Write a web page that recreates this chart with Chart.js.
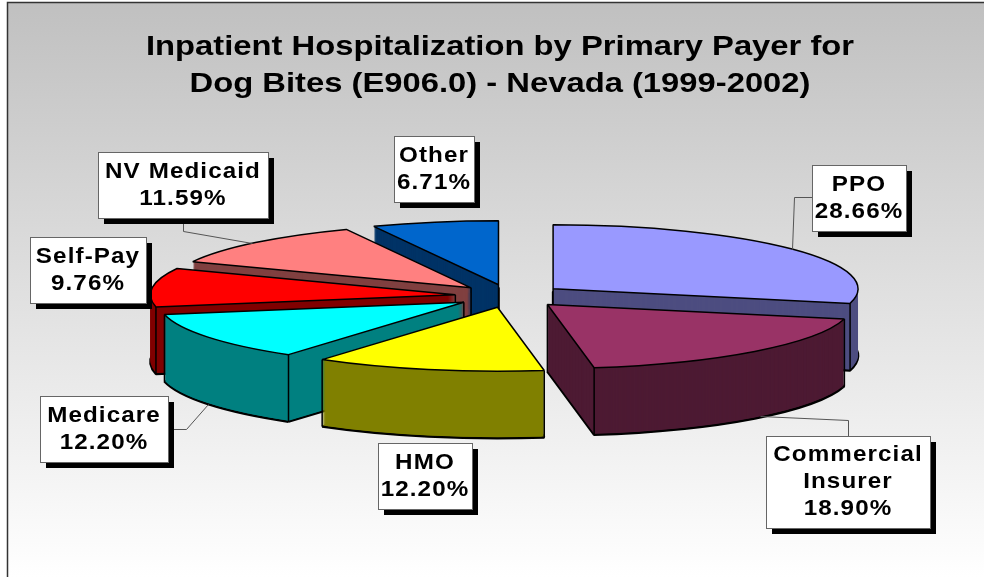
<!DOCTYPE html>
<html>
<head>
<meta charset="utf-8">
<title>Dog bites by payer</title>
<script src="https://cdn.jsdelivr.net/npm/chart.js@4/dist/chart.umd.min.js"></script>
<style>
  html, body { margin: 0; padding: 0; background: #fff; }
  canvas { display: block; }
</style>
</head>
<body>
<canvas id="payerPie" width="984" height="577"></canvas>
<script>
const titleLines = ['Inpatient Hospitalization by Primary Payer for', 'Dog Bites (E906.0) - Nevada (1999-2002)'];
const categories = ['PPO', 'Commercial\nInsurer', 'HMO', 'Medicare', 'Self-Pay', 'NV Medicaid', 'Other'];
const shares = [28.66, 18.90, 12.20, 12.20, 9.76, 11.59, 6.71];
const topColors = ['#9999FF', '#993366', '#FFFF00', '#00FFFF', '#FF0000', '#FF8080', '#0066CC'];
const sideColors = ['#4D4D80', '#4D1A33', '#808000', '#008080', '#800000', '#804040', '#003366'];

// back to front, so nearer slices cover the walls behind them
const drawOrder = [6, 5, 4, 0, 3, 2, 1];

// label boxes: left, top, right, bottom
const labelBoxes = [
  [812, 165, 906, 231],
  [766, 436, 930, 528],
  [378, 443, 472, 509],
  [40, 396, 168, 462],
  [30, 237, 146, 303],
  [98, 152, 268, 218],
  [394, 136, 474, 202]
];
const leaderLines = [
  [[812, 197], [794, 197], [792, 249]],
  [[848, 436], [848, 420], [760, 416]],
  [[168, 429], [186, 429], [208, 404]],
  [[183, 218], [183, 231], [252, 243]]
];

const pieX = 510, pieY = 296;      // pie centre on the page
const radiusX = 305, radiusY = 64; // squashed ellipse
const explode = 55;                // slice pull-out, in page px along x
const depth = 67;                  // wall height

function sliceTransform(ctx, arc, dy) {
  const R = arc.outerRadius;
  const sx = radiusX / R, sy = radiusY / R;
  const mid = (arc.startAngle + arc.endAngle) / 2;
  ctx.setTransform(1, 0, 0, 1, 0, 0);
  ctx.translate(pieX, pieY + dy);
  ctx.scale(sx, sy);
  ctx.translate(Math.cos(mid) * explode / sx, Math.sin(mid) * explode / sx);
  ctx.translate(-arc.x, -arc.y);
}

function project(arc, angle, r) {
  const R = arc.outerRadius;
  const mid = (arc.startAngle + arc.endAngle) / 2;
  return [
    pieX + Math.cos(mid) * explode + Math.cos(angle) * r * radiusX / R,
    pieY + (Math.sin(mid) * explode + Math.sin(angle) * r * radiusX / R) * radiusY / radiusX
  ];
}

const pie3d = {
  id: 'pie3d',
  beforeDraw(chart) {
    const ctx = chart.ctx;
    const grad = ctx.createLinearGradient(0, 2, 0, 577);
    grad.addColorStop(0, '#C0C0C0');
    grad.addColorStop(1, '#FFFFFF');
    ctx.save();
    ctx.fillStyle = grad;
    ctx.fillRect(8, 3, 976, 574);
    ctx.strokeStyle = '#333';
    ctx.lineWidth = 1.5;
    ctx.beginPath();
    ctx.moveTo(7.5, 577);
    ctx.lineTo(7.5, 2.5);
    ctx.lineTo(984, 2.5);
    ctx.stroke();
    ctx.restore();
    // the original title is stretched sideways, the title box draws right after this
    ctx.translate(500, 0);
    ctx.scale(1.17, 1);
    ctx.translate(-500, 0);
  },
  beforeDatasetsDraw(chart) {
    const ctx = chart.ctx;
    ctx.setTransform(1, 0, 0, 1, 0, 0);
    const arcs = chart.getDatasetMeta(0).data;
    const plainStroke = ctx.stroke;
    // line width stays even although the pie is squashed
    ctx.stroke = function () {
      ctx.save();
      ctx.setTransform(1, 0, 0, 1, 0, 0);
      plainStroke.call(ctx);
      ctx.restore();
    };
    drawOrder.forEach(i => {
      const arc = arcs[i];
      const wall = Object.create(arc);
      wall.options = Object.assign({}, arc.options, { backgroundColor: sideColors[i], borderWidth: 0 });
      const floor = Object.create(arc);
      floor.options = Object.assign({}, arc.options, { backgroundColor: sideColors[i], borderWidth: 2.5 });
      ctx.save();
      sliceTransform(ctx, arc, depth);
      floor.draw(ctx);
      for (let d = depth - 1; d > 0; d--) {
        sliceTransform(ctx, arc, d);
        wall.draw(ctx);
      }
      // vertical edges at the corners that face the viewer
      ctx.setTransform(1, 0, 0, 1, 0, 0);
      ctx.strokeStyle = '#000';
      ctx.lineWidth = 1.5;
      const corners = [];
      const facesFront = arc.startAngle < Math.PI / 2 && arc.endAngle > Math.PI / 2;
      if (!facesFront) corners.push(project(arc, 0, 0));
      [arc.startAngle, arc.endAngle].forEach(a => {
        if (Math.sin(a) > -0.1) corners.push(project(arc, a, arc.outerRadius));
      });
      ctx.beginPath();
      corners.forEach(p => {
        ctx.moveTo(p[0], p[1]);
        ctx.lineTo(p[0], p[1] + depth);
      });
      ctx.stroke();
      sliceTransform(ctx, arc, 0);
      arc.draw(ctx);
      ctx.restore();
    });
    delete ctx.stroke;
    return false;
  },
  afterDraw(chart) {
    const ctx = chart.ctx;
    ctx.save();
    ctx.strokeStyle = '#555';
    ctx.lineWidth = 1;
    leaderLines.forEach(pts => {
      ctx.beginPath();
      pts.forEach((p, k) => k ? ctx.lineTo(p[0] + 0.5, p[1] + 0.5) : ctx.moveTo(p[0] + 0.5, p[1] + 0.5));
      ctx.stroke();
    });
    categories.forEach((name, i) => {
      const [l, t, r, b] = labelBoxes[i];
      ctx.fillStyle = '#000';
      ctx.fillRect(l + 6, t + 6, r - l, b - t);
      ctx.fillStyle = '#fff';
      ctx.fillRect(l, t, r - l, b - t);
      ctx.strokeStyle = '#666';
      ctx.strokeRect(l + 0.5, t + 0.5, r - l, b - t);
      const lines = name.split('\n').concat(shares[i].toFixed(2) + '%');
      const midY = (t + b) / 2, midX = (l + r) / 2;
      ctx.fillStyle = '#000';
      ctx.font = 'bold 22px "Liberation Sans"';
      ctx.letterSpacing = '1px';
      ctx.textAlign = 'center';
      ctx.textBaseline = 'middle';
      lines.forEach((txt, k) => {
        ctx.save();
        ctx.translate(midX, midY + (k - (lines.length - 1) / 2) * 27);
        ctx.scale(1.1, 1);
        ctx.fillText(txt, 0, 0);
        ctx.restore();
      });
    });
    ctx.restore();
  }
};

new Chart(document.getElementById('payerPie'), {
  type: 'pie',
  data: {
    labels: categories,
    datasets: [{
      data: shares,
      backgroundColor: topColors,
      borderColor: '#000',
      borderWidth: 1.5
    }]
  },
  options: {
    responsive: false,
    animation: false,
    layout: { padding: { left: 16 } },
    plugins: {
      legend: { display: false },
      tooltip: { enabled: false },
      title: {
        display: true,
        text: titleLines,
        color: '#000',
        font: { family: '"Liberation Sans"', size: 28, weight: 'bold', lineHeight: 1.32 },
        padding: { top: 29, bottom: 10 }
      }
    }
  },
  plugins: [pie3d]
});
</script>
</body>
</html>
